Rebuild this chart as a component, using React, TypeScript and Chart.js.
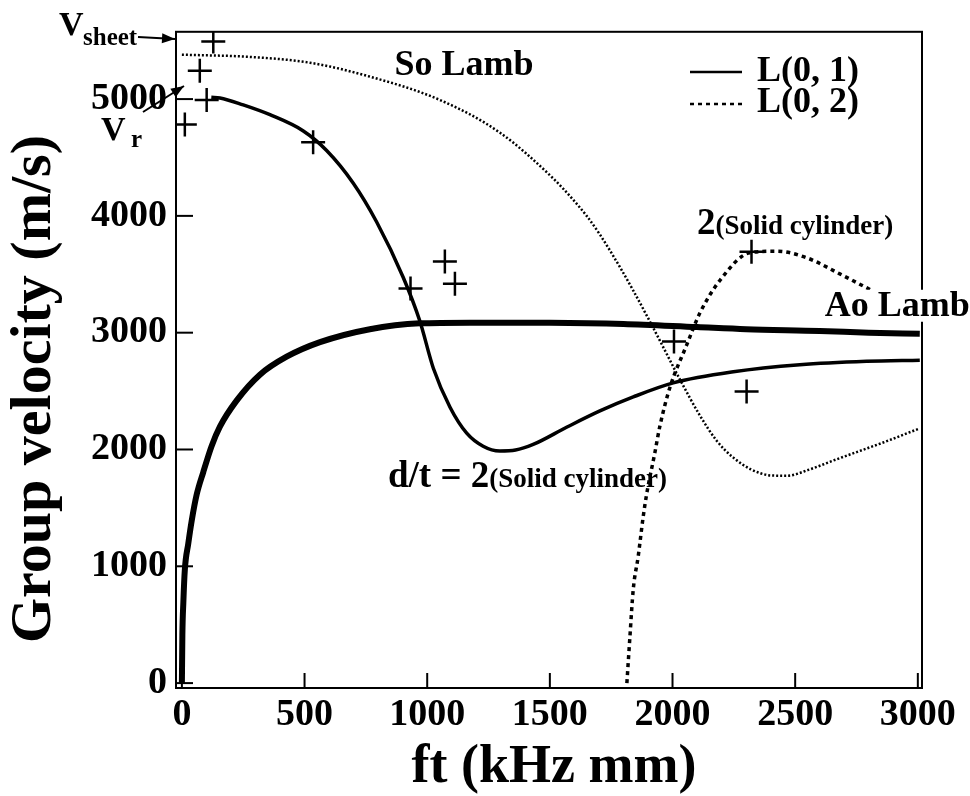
import React, { useEffect, useRef } from "react";
import { Chart, registerables } from "chart.js";
Chart.register(...registerables);

const FONT = '"Liberation Serif", "Times New Roman", "DejaVu Serif", serif';

const xTicks = [0, 500, 1000, 1500, 2000, 2500, 3000];
const yTicks = [0, 1000, 2000, 3000, 4000, 5000];

// Ao Lamb (thick solid)
const aoX = [0, 2, 6, 12, 26, 40, 60, 87, 121, 155, 223, 318, 427, 563, 766, 970, 1174, 1500, 1800, 2100, 2300, 2600, 2800, 3008];
const aoY = [0, 415, 693, 970, 1194, 1390, 1611, 1805, 2028, 2195, 2418, 2640, 2794, 2919, 3030, 3080, 3086, 3085, 3075, 3048, 3030, 3015, 3000, 2990];

// L(0,1) solid cylinder d/t = 2 (solid)
const l01X = [120, 155, 250, 359, 495, 590, 698, 794, 902, 970, 1025, 1093, 1161, 1228, 1296, 1360, 1432, 1568, 1704, 1840, 2003, 2248, 2519, 2791, 3008];
const l01Y = [5015, 5010, 4950, 4866, 4727, 4560, 4282, 3948, 3475, 3100, 2696, 2362, 2140, 2028, 1987, 1995, 2043, 2190, 2330, 2450, 2570, 2665, 2725, 2755, 2765];

// So Lamb (thin dotted)
const s0X = [0, 277, 522, 753, 1052, 1296, 1514, 1590, 1650, 1704, 1786, 1840, 1908, 1960, 2030, 2112, 2180, 2248, 2320, 2400, 2465, 2560, 2655, 2760, 2859, 3008];
const s0Y = [5380, 5361, 5311, 5200, 4992, 4713, 4320, 4150, 4000, 3840, 3560, 3360, 3095, 2885, 2600, 2290, 2075, 1930, 1830, 1778, 1775, 1830, 1905, 1985, 2060, 2181];

// L(0,2) solid cylinder (dotted)
const l02X = [1814, 1826, 1840, 1860, 1880, 1894, 1928, 1948, 1989, 2057, 2112, 2193, 2315, 2424, 2546, 2682, 2810];
const l02Y = [0, 386, 804, 1083, 1417, 1611, 1972, 2195, 2529, 2891, 3170, 3447, 3684, 3698, 3642, 3503, 3364];

// Experimental points (+)
const expX = [12, 73, 101, 128, 535, 932, 1072, 1113, 2006, 2302, 2322];
const expY = [4783, 5242, 4992, 5492, 4630, 3378, 3609, 3420, 2924, 2496, 3692];

const legendLabels = ["L(0, 1)", "L(0, 2)"];

const pts = (xs: number[], ys: number[]) => xs.map((x, i) => ({ x, y: ys[i] }));

export default function App() {
  const ref = useRef<HTMLCanvasElement>(null);
  useEffect(() => {
    if (!ref.current) return;
    const font = (s: number) => `bold ${s}px ${FONT}`;

    const overlay = {
      id: "overlay",
      afterDraw(chart: any) {
        const { ctx, chartArea: a, scales } = chart;
        const xs = scales.x, ys = scales.y;
        ctx.save();
        ctx.strokeStyle = "#000";
        ctx.fillStyle = "#000";
        ctx.setLineDash([]);
        ctx.lineWidth = 2;
        ctx.strokeRect(a.left, a.top, a.right - a.left, a.bottom - a.top);
        xTicks.forEach((v) => {
          const px = xs.getPixelForValue(v);
          ctx.beginPath();
          ctx.moveTo(px, a.bottom);
          ctx.lineTo(px, a.bottom - 15);
          ctx.stroke();
        });
        yTicks.forEach((v) => {
          const py = ys.getPixelForValue(v);
          ctx.beginPath();
          ctx.moveTo(a.left, py);
          ctx.lineTo(a.left + 17, py);
          ctx.stroke();
        });

        const text = (t: string, x: number, y: number, s: number, align: CanvasTextAlign = "left", base: CanvasTextBaseline = "alphabetic") => {
          ctx.font = font(s);
          ctx.textAlign = align;
          ctx.textBaseline = base;
          ctx.fillText(t, x, y);
          return ctx.measureText(t).width;
        };
        const arrow = (x1: number, y1: number, x2: number, y2: number) => {
          ctx.lineWidth = 2;
          ctx.beginPath();
          ctx.moveTo(x1, y1);
          ctx.lineTo(x2, y2);
          ctx.stroke();
          const ang = Math.atan2(y2 - y1, x2 - x1);
          const L = 13, W = 5;
          ctx.beginPath();
          ctx.moveTo(x2, y2);
          ctx.lineTo(x2 - L * Math.cos(ang) + W * Math.sin(ang), y2 - L * Math.sin(ang) - W * Math.cos(ang));
          ctx.lineTo(x2 - L * Math.cos(ang) - W * Math.sin(ang), y2 - L * Math.sin(ang) + W * Math.cos(ang));
          ctx.closePath();
          ctx.fill();
        };

        // Legend
        ctx.lineWidth = 2.5;
        ctx.beginPath();
        ctx.moveTo(690, 72);
        ctx.lineTo(742, 72);
        ctx.stroke();
        ctx.setLineDash([4, 4]);
        ctx.beginPath();
        ctx.moveTo(690, 104);
        ctx.lineTo(742, 104);
        ctx.stroke();
        ctx.setLineDash([]);
        text(legendLabels[0], 757, 72, 36, "left", "middle");
        text(legendLabels[1], 757, 103, 36, "left", "middle");

        // So Lamb
        text("So Lamb", xs.getPixelForValue(1150), ys.getPixelForValue(5284), 36, "center", "middle");

        // 2(Solid cylinder)
        {
          const x0 = xs.getPixelForValue(2100), y0 = ys.getPixelForValue(3948) + 12;
          const w = text("2", x0, y0, 37);
          text("(Solid cylinder)", x0 + w, y0, 27);
        }
        // d/t = 2(Solid cylinder)
        {
          const x0 = xs.getPixelForValue(840), y0 = ys.getPixelForValue(1778) + 12;
          const w = text("d/t = 2", x0, y0, 37);
          text("(Solid cylinder)", x0 + w, y0, 27);
        }
        // Ao Lamb with white background
        {
          const x0 = xs.getPixelForValue(2621), yc = ys.getPixelForValue(3222);
          ctx.font = font(36);
          const w = ctx.measureText("Ao Lamb").width;
          ctx.fillStyle = "#fff";
          ctx.fillRect(x0 - 2, yc - 17, w + 4, 32);
          ctx.fillStyle = "#000";
          text("Ao Lamb", x0, yc, 36, "left", "middle");
        }

        // V sheet
        text("V", 59, 35, 34);
        text("sheet", 83, 45, 25);
        arrow(138, 37, 175, 39);
        // V r
        text("V", 101, 140, 34);
        text("r", 131, 147, 25);
        arrow(143, 112, 184, 86);

        // Axis titles
        text("ft (kHz mm)", 554, 768, 54, "center", "middle");
        ctx.save();
        ctx.translate(35, 389);
        ctx.rotate(-Math.PI / 2);
        text("Group velocity (m/s)", 0, 0, 58, "center", "middle");
        ctx.restore();

        ctx.restore();
      },
    };

    const chart = new Chart(ref.current, {
      type: "scatter",
      data: {
        datasets: [
          {
            label: "Experiment",
            data: pts(expX, expY),
            pointStyle: "cross",
            pointRadius: 12,
            pointBorderWidth: 2.5,
            borderColor: "#000",
            backgroundColor: "#000",
            showLine: false,
          },
          {
            label: "L(0, 1) d/t = 2",
            data: pts(l01X, l01Y),
            showLine: true,
            borderColor: "#000",
            borderWidth: 3.5,
            pointRadius: 0,
            cubicInterpolationMode: "monotone",
          },
          {
            label: "L(0, 2)",
            data: pts(l02X, l02Y),
            showLine: true,
            borderColor: "#000",
            borderWidth: 3.5,
            borderDash: [4, 4],
            pointRadius: 0,
            cubicInterpolationMode: "monotone",
          },
          {
            label: "Ao Lamb",
            data: pts(aoX, aoY),
            showLine: true,
            borderColor: "#000",
            borderWidth: 6,
            pointRadius: 0,
            cubicInterpolationMode: "monotone",
          },
          {
            label: "So Lamb",
            data: pts(s0X, s0Y),
            showLine: true,
            borderColor: "#000",
            borderWidth: 2.5,
            borderDash: [2, 2],
            pointRadius: 0,
            cubicInterpolationMode: "monotone",
          },
        ],
      },
      options: {
        responsive: false,
        animation: false,
        devicePixelRatio: 1,
        layout: { padding: { top: 15, right: 48, left: 0, bottom: 0 } },
        plugins: { legend: { display: false }, tooltip: { enabled: false } },
        scales: {
          x: {
            type: "linear",
            min: -24,
            max: 3017,
            grid: { display: false, drawTicks: false },
            border: { display: false },
            afterBuildTicks: (s: any) => {
              s.ticks = xTicks.map((v) => ({ value: v }));
            },
            afterFit: (s: any) => {
              s.height = 108;
            },
            ticks: {
              color: "#000",
              font: { family: FONT, weight: "bold", size: 38 },
              padding: 4,
              maxRotation: 0,
              autoSkip: false,
              callback: (v: any) => String(v),
            },
          },
          y: {
            type: "linear",
            min: -42,
            max: 5576,
            grid: { display: false, drawTicks: false },
            border: { display: false },
            afterBuildTicks: (s: any) => {
              s.ticks = yTicks.map((v) => ({ value: v }));
            },
            afterFit: (s: any) => {
              s.width = 176;
            },
            ticks: {
              color: "#000",
              font: { family: FONT, weight: "bold", size: 38 },
              padding: 9,
              autoSkip: false,
              callback: (v: any) => String(v),
            },
          },
        },
      },
      plugins: [overlay],
    } as any);
    return () => chart.destroy();
  }, []);

  return (
    <div style={{ position: "absolute", left: 0, top: 0, width: 970, height: 796, background: "#fff" }}>
      <canvas ref={ref} width={970} height={796} style={{ width: 970, height: 796, display: "block" }} />
    </div>
  );
}
